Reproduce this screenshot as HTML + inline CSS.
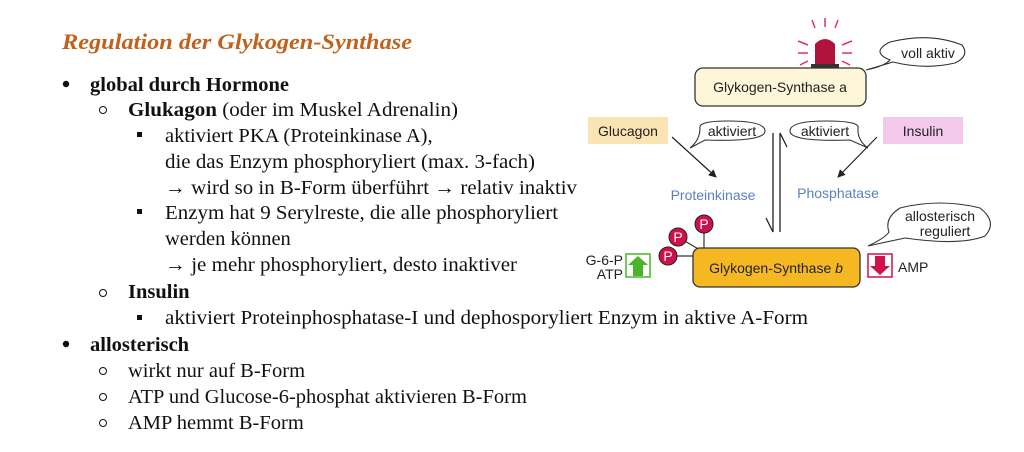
<!DOCTYPE html>
<html><head><meta charset="utf-8"><style>
html,body{margin:0;padding:0;background:#fff;}
svg{display:block;}
.t{font-family:"Liberation Serif",serif;font-size:20.5px;fill:#111;}
.b{font-weight:bold;}
.d{font-family:"Liberation Sans",sans-serif;font-size:14px;fill:#222;}
</style></head><body>
<svg width="1024" height="452" viewBox="0 0 1024 452">
<text x="62" y="49" style="font-family:'Liberation Serif',serif;font-size:22px;font-weight:bold;font-style:italic;fill:#c0621c" textLength="350" lengthAdjust="spacingAndGlyphs">Regulation der Glykogen-Synthase</text>

<g>
<circle cx="66" cy="84" r="3.2" fill="#111"/>
<text class="t b" x="90" y="91">global durch Hormone</text>
<circle cx="103" cy="110" r="3.5" fill="none" stroke="#111" stroke-width="1"/>
<text class="t" x="128" y="116" textLength="330" lengthAdjust="spacingAndGlyphs"><tspan class="b" font-weight="bold">Glukagon</tspan> (oder im Muskel Adrenalin)</text>
<rect x="137" y="132" width="5" height="5" fill="#111"/>
<text class="t" x="165" y="142">aktiviert PKA (Proteinkinase A),</text>
<text class="t" x="165" y="168" textLength="370" lengthAdjust="spacingAndGlyphs">die das Enzym phosphoryliert (max. 3-fach)</text>
<text class="t" x="165" y="194" textLength="412" lengthAdjust="spacingAndGlyphs">→ wird so in B-Form überführt → relativ inaktiv</text>
<rect x="137" y="209" width="5" height="5" fill="#111"/>
<text class="t" x="165" y="219" textLength="393" lengthAdjust="spacingAndGlyphs">Enzym hat 9 Serylreste, die alle phosphoryliert</text>
<text class="t" x="165" y="245">werden können</text>
<text class="t" x="165" y="271" textLength="352" lengthAdjust="spacingAndGlyphs">→ je mehr phosphoryliert, desto inaktiver</text>
<circle cx="103" cy="293" r="3.5" fill="none" stroke="#111" stroke-width="1"/>
<text class="t b" x="128" y="298">Insulin</text>
<rect x="137" y="315" width="5" height="5" fill="#111"/>
<text class="t" x="165" y="324" textLength="643" lengthAdjust="spacingAndGlyphs">aktiviert Proteinphosphatase-I und dephosporyliert Enzym in aktive A-Form</text>
<circle cx="66" cy="344" r="3.2" fill="#111"/>
<text class="t b" x="90" y="351">allosterisch</text>
<circle cx="103" cy="371" r="3.5" fill="none" stroke="#111" stroke-width="1"/>
<text class="t" x="128" y="377">wirkt nur auf B-Form</text>
<circle cx="103" cy="397" r="3.5" fill="none" stroke="#111" stroke-width="1"/>
<text class="t" x="128" y="403">ATP und Glucose-6-phosphat aktivieren B-Form</text>
<circle cx="103" cy="423" r="3.5" fill="none" stroke="#111" stroke-width="1"/>
<text class="t" x="128" y="429">AMP hemmt B-Form</text>
</g>

<g>
<defs><marker id="ah" markerWidth="8" markerHeight="8" refX="7" refY="4" orient="auto" markerUnits="userSpaceOnUse"><path d="M0,0 L8,4 L0,8 z" fill="#222"/></marker></defs>
<!-- beacon -->
<g stroke="#e0306a" stroke-width="1.5">
<line x1="815" y1="28" x2="812" y2="20"/><line x1="825" y1="27" x2="825" y2="18"/><line x1="835" y1="28" x2="838" y2="20"/>
<line x1="808" y1="45" x2="798" y2="41"/><line x1="808" y1="53" x2="798" y2="53"/><line x1="808" y1="61" x2="800" y2="65"/>
<line x1="842" y1="45" x2="852" y2="41"/><line x1="842" y1="53" x2="852" y2="53"/><line x1="842" y1="61" x2="850" y2="65"/>
</g>
<path d="M815,66 L815,44 Q825,34 835,44 L835,66 z" fill="#b0143c"/>
<rect x="811" y="64" width="28" height="4" fill="#333"/>
<rect x="695" y="68" width="171" height="38" rx="8" fill="#fdf6d8" stroke="#333" stroke-width="1.3"/>
<text class="d" x="780" y="92" text-anchor="middle" font-size="15">Glykogen-Synthase a</text>
<path d="M866,70 Q885,66 890,60 Q870,52 890,42 Q930,32 962,45 Q970,56 955,63 Q925,70 893,62 Z" fill="#fff" stroke="#333" stroke-width="1.1"/>
<text class="d" x="928" y="58" text-anchor="middle">voll aktiv</text>

<rect x="588" y="117" width="80" height="27" fill="#fbe4b3"/>
<text class="d" x="628" y="136" text-anchor="middle" font-size="15">Glucagon</text>
<rect x="883" y="117" width="80" height="27" fill="#f3c9ec"/>
<text class="d" x="923" y="136" text-anchor="middle" font-size="15">Insulin</text>

<path d="M690,148 Q700,140 700,128 Q698,121 728,121 Q765,121 765,131 Q765,142 705,140 Z" fill="#fff" stroke="#333" stroke-width="1.1"/>
<text class="d" x="732" y="136" text-anchor="middle">aktiviert</text>
<path d="M868,148 Q857,140 858,128 Q860,121 826,121 Q790,121 790,131 Q790,142 850,140 Z" fill="#fff" stroke="#333" stroke-width="1.1"/>
<text class="d" x="825" y="136" text-anchor="middle">aktiviert</text>

<line x1="672" y1="137" x2="716" y2="177" stroke="#222" stroke-width="1.2" marker-end="url(#ah)"/>
<line x1="877" y1="137" x2="838" y2="177" stroke="#222" stroke-width="1.2" marker-end="url(#ah)"/>
<text class="d" x="713" y="200" text-anchor="middle" fill="#5a80c2" style="fill:#5a80c2">Proteinkinase</text>
<text class="d" x="838" y="198" text-anchor="middle" style="fill:#5a80c2">Phosphatase</text>

<g stroke="#222" stroke-width="1.3" fill="none">
<path d="M773,133 L773,232 L766,218"/>
<path d="M780,232 L780,133 L787,147"/>
</g>

<path d="M868,246 Q885,238 889,232 Q884,218 900,208 Q940,198 980,208 Q998,222 985,236 Q960,246 905,238 Z" fill="#fff" stroke="#333" stroke-width="1.1"/>
<text class="d" x="940" y="221" text-anchor="middle">allosterisch</text>
<text class="d" x="945" y="236" text-anchor="middle">reguliert</text>

<line x1="678" y1="237" x2="700" y2="250" stroke="#333" stroke-width="1.2"/>
<line x1="704" y1="224" x2="704" y2="250" stroke="#333" stroke-width="1.2"/>
<line x1="668" y1="256" x2="694" y2="256" stroke="#333" stroke-width="1.2"/>
<rect x="693" y="248" width="167" height="39" rx="7" fill="#f5b822" stroke="#333" stroke-width="1.3"/>
<text class="d" x="776" y="273" text-anchor="middle" font-size="15">Glykogen-Synthase <tspan font-style="italic">b</tspan></text>
<g>
<circle cx="678" cy="237" r="9" fill="#d0104a" stroke="#222"/><text class="d" x="678" y="242" text-anchor="middle" style="fill:#fff">P</text>
<circle cx="704" cy="224" r="9" fill="#d0104a" stroke="#222"/><text class="d" x="704" y="229" text-anchor="middle" style="fill:#fff">P</text>
<circle cx="668" cy="256" r="9" fill="#d0104a" stroke="#222"/><text class="d" x="668" y="261" text-anchor="middle" style="fill:#fff">P</text>
</g>
<text class="d" x="623" y="265" text-anchor="end">G-6-P</text>
<text class="d" x="623" y="279" text-anchor="end">ATP</text>
<rect x="626" y="254" width="24" height="23" fill="#fff" stroke="#4ab52a" stroke-width="1.5"/>
<path d="M638,256 L648,265 L643,265 L643,276 L633,276 L633,265 L628,265 Z" fill="#4ab52a"/>
<rect x="868" y="254" width="24" height="23" fill="#fff" stroke="#d0104a" stroke-width="1.5"/>
<path d="M880,275 L890,266 L885,266 L885,256 L875,256 L875,266 L870,266 Z" fill="#d0104a"/>
<text class="d" x="898" y="272" font-size="15">AMP</text>
</g>
</svg>
</body></html>
